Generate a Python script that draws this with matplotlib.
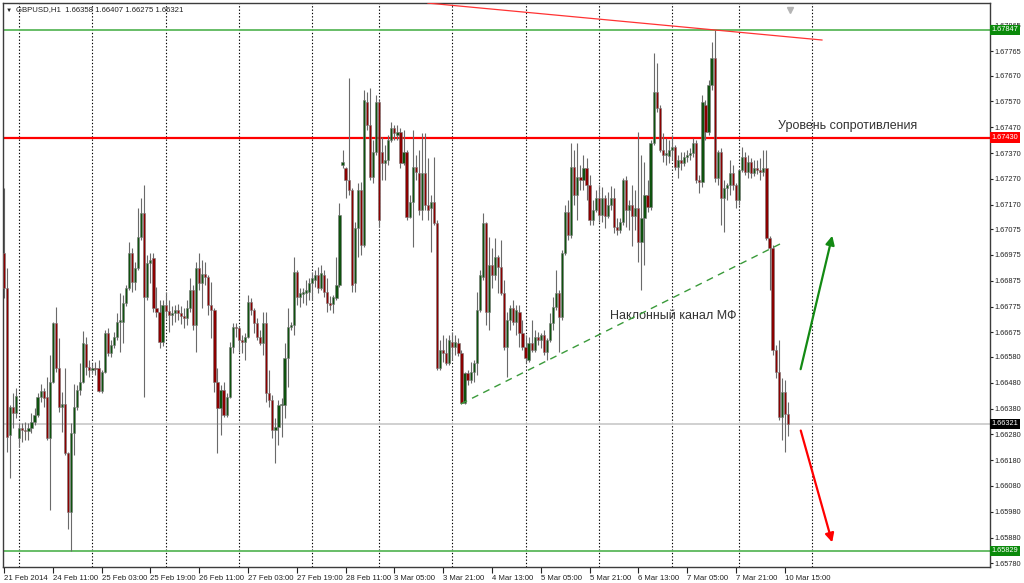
import matplotlib
matplotlib.use("Agg")
import matplotlib.pyplot as plt
import matplotlib.transforms as mtransforms
import numpy as np

plt.rcParams['font.family'] = ['Liberation Sans', 'DejaVu Sans']

# GBPUSD H1 bars (open / high / low / close)
opens = [
    1.66983, 1.66847, 1.66277, 1.66386, 1.66363, 1.66266, 1.66304, 1.66297, 1.66293, 1.66304,
    1.66328, 1.66355, 1.66425, 1.66448, 1.66425, 1.66266, 1.66483, 1.66711, 1.66537, 1.66386,
    1.66398, 1.66208, 1.65979, 1.66285, 1.66386, 1.66452, 1.66483, 1.66630, 1.66541, 1.66529,
    1.66537, 1.66537, 1.66448, 1.66522, 1.66673, 1.66595, 1.66626, 1.66657, 1.66715, 1.66715,
    1.66789, 1.66847, 1.66983, 1.66870, 1.66924, 1.67045, 1.67138, 1.66812, 1.66944, 1.66963,
    1.66770, 1.66754, 1.66638, 1.66781, 1.66758, 1.66742, 1.66750, 1.66762, 1.66750, 1.66739,
    1.66731, 1.66770, 1.66839, 1.66704, 1.66924, 1.66866, 1.66901, 1.66890, 1.66781, 1.66762,
    1.66483, 1.66382, 1.66452, 1.66355, 1.66425, 1.66618, 1.66696, 1.66692, 1.66646, 1.66638,
    1.66657, 1.66793, 1.66762, 1.66711, 1.66657, 1.66634, 1.66711, 1.66440, 1.66413, 1.66297,
    1.66308, 1.66394, 1.66394, 1.66576, 1.66696, 1.66704, 1.66909, 1.66812, 1.66824, 1.66828,
    1.66832, 1.66866, 1.66878, 1.66897, 1.66847, 1.66897, 1.66832, 1.66789, 1.66785, 1.66808,
    1.66859, 1.67324, 1.67312, 1.67266, 1.67227, 1.66866, 1.67080, 1.67227, 1.67014, 1.67568,
    1.67479, 1.67277, 1.67374, 1.67568, 1.67374, 1.67331, 1.67343, 1.67421, 1.67467, 1.67440,
    1.67452, 1.67331, 1.67374, 1.67122, 1.67180, 1.67316, 1.67293, 1.67149, 1.67293, 1.67169,
    1.67157, 1.67180, 1.67099, 1.66537, 1.66607, 1.66595, 1.66556, 1.66638, 1.66618, 1.66634,
    1.66595, 1.66401, 1.66518, 1.66491, 1.66522, 1.66556, 1.66762, 1.66890, 1.67099, 1.66754,
    1.66936, 1.66897, 1.66967, 1.66928, 1.66828, 1.66618, 1.66723, 1.66770, 1.66715, 1.66754,
    1.66673, 1.66618, 1.66568, 1.66634, 1.66607, 1.66657, 1.66646, 1.66665, 1.66599, 1.66646,
    1.66711, 1.66773, 1.66828, 1.66735, 1.66983, 1.67142, 1.67052, 1.67316, 1.67207, 1.67277,
    1.67266, 1.67312, 1.67246, 1.67111, 1.67149, 1.67196, 1.67130, 1.67196, 1.67126, 1.67169,
    1.67196, 1.67083, 1.67072, 1.67103, 1.67266, 1.67149, 1.67169, 1.67126, 1.67157, 1.67025,
    1.67118, 1.67207, 1.67161, 1.67409, 1.67607, 1.67545, 1.67382, 1.67362, 1.67359, 1.67382,
    1.67393, 1.67316, 1.67343, 1.67331, 1.67355, 1.67362, 1.67370, 1.67409, 1.67266, 1.67258,
    1.67556, 1.67452, 1.67634, 1.67738, 1.67273, 1.67374, 1.67196, 1.67235, 1.67246, 1.67293,
    1.67246, 1.67188, 1.67304, 1.67355, 1.67297, 1.67335, 1.67293, 1.67312, 1.67304, 1.67297,
    1.67312, 1.67041, 1.67002, 1.66607, 1.66522, 1.66347, 1.66444, 1.66358,
]
highs = [
    1.67235, 1.66924, 1.66394, 1.66440, 1.66460, 1.66324, 1.66324, 1.66328, 1.66324, 1.66363,
    1.66382, 1.66440, 1.66475, 1.66460, 1.66502, 1.66587, 1.66715, 1.66773, 1.66653, 1.66444,
    1.66537, 1.66211, 1.66324, 1.66475, 1.66471, 1.66556, 1.66680, 1.66657, 1.66568, 1.66556,
    1.66560, 1.66568, 1.66529, 1.66684, 1.66692, 1.66646, 1.66677, 1.66750, 1.66828, 1.66820,
    1.66859, 1.67025, 1.67002, 1.66948, 1.67157, 1.67196, 1.67246, 1.66975, 1.66983, 1.66983,
    1.66851, 1.66801, 1.66801, 1.66832, 1.66801, 1.66777, 1.66781, 1.66785, 1.66777, 1.66770,
    1.66801, 1.66886, 1.66859, 1.66948, 1.66983, 1.66956, 1.66948, 1.66897, 1.66870, 1.66770,
    1.66537, 1.66471, 1.66483, 1.66440, 1.66638, 1.66711, 1.66711, 1.66700, 1.66665, 1.66673,
    1.66820, 1.66808, 1.66770, 1.66731, 1.66684, 1.66754, 1.66754, 1.66529, 1.66432, 1.66343,
    1.66413, 1.66421, 1.66634, 1.66770, 1.66715, 1.66967, 1.66917, 1.66847, 1.66847, 1.66878,
    1.66886, 1.66909, 1.66917, 1.66928, 1.66936, 1.66917, 1.66886, 1.66816, 1.66820, 1.66967,
    1.67176, 1.67382, 1.67316, 1.67661, 1.67235, 1.67103, 1.67254, 1.67258, 1.67614, 1.67607,
    1.67622, 1.67421, 1.67595, 1.67576, 1.67432, 1.67401, 1.67440, 1.67490, 1.67479, 1.67479,
    1.67467, 1.67459, 1.67382, 1.67207, 1.67459, 1.67362, 1.67382, 1.67448, 1.67448, 1.67351,
    1.67207, 1.67355, 1.67111, 1.66646, 1.66665, 1.66653, 1.66665, 1.66677, 1.66665, 1.66653,
    1.66607, 1.66522, 1.66529, 1.66560, 1.66568, 1.66832, 1.66917, 1.67138, 1.67103, 1.67045,
    1.67002, 1.67041, 1.66975, 1.67033, 1.66878, 1.66754, 1.66781, 1.66801, 1.66781, 1.66781,
    1.66723, 1.66665, 1.66657, 1.66723, 1.66684, 1.66677, 1.66673, 1.66684, 1.66653, 1.66750,
    1.66812, 1.66917, 1.66839, 1.66994, 1.67169, 1.67188, 1.67409, 1.67382, 1.67409, 1.67324,
    1.67362, 1.67351, 1.67285, 1.67188, 1.67227, 1.67246, 1.67238, 1.67207, 1.67219, 1.67242,
    1.67235, 1.67118, 1.67118, 1.67273, 1.67281, 1.67188, 1.67246, 1.67227, 1.67452, 1.67362,
    1.67335, 1.67266, 1.67421, 1.67758, 1.67719, 1.67556, 1.67448, 1.67428, 1.67421, 1.67440,
    1.67401, 1.67362, 1.67374, 1.67374, 1.67382, 1.67390, 1.67428, 1.67421, 1.67285, 1.67595,
    1.67576, 1.67653, 1.67800, 1.67847, 1.67382, 1.67390, 1.67266, 1.67254, 1.67343, 1.67324,
    1.67254, 1.67304, 1.67393, 1.67374, 1.67362, 1.67351, 1.67343, 1.67343, 1.67351, 1.67382,
    1.67382, 1.67049, 1.67014, 1.66626, 1.66646, 1.66498, 1.66491, 1.66407,
]
lows = [
    1.66808, 1.66211, 1.66111, 1.66304, 1.66343, 1.66231, 1.66250, 1.66258, 1.66258, 1.66285,
    1.66316, 1.66347, 1.66405, 1.66386, 1.66258, 1.65987, 1.66479, 1.66522, 1.66367, 1.66289,
    1.66200, 1.65913, 1.65829, 1.66200, 1.66374, 1.66432, 1.66479, 1.66510, 1.66502, 1.66514,
    1.66510, 1.66444, 1.66440, 1.66518, 1.66584, 1.66580, 1.66615, 1.66646, 1.66599, 1.66634,
    1.66777, 1.66839, 1.66832, 1.66839, 1.66917, 1.67033, 1.66425, 1.66801, 1.66866, 1.66754,
    1.66735, 1.66615, 1.66622, 1.66731, 1.66677, 1.66704, 1.66715, 1.66723, 1.66708, 1.66692,
    1.66704, 1.66754, 1.66684, 1.66599, 1.66839, 1.66770, 1.66859, 1.66742, 1.66653, 1.66444,
    1.66208, 1.66277, 1.66347, 1.66347, 1.66421, 1.66595, 1.66657, 1.66599, 1.66595, 1.66568,
    1.66653, 1.66742, 1.66673, 1.66646, 1.66626, 1.66587, 1.66405, 1.66386, 1.66266, 1.66169,
    1.66239, 1.66270, 1.66343, 1.66463, 1.66684, 1.66665, 1.66781, 1.66773, 1.66789, 1.66781,
    1.66801, 1.66801, 1.66851, 1.66828, 1.66839, 1.66812, 1.66754, 1.66762, 1.66750, 1.66801,
    1.66851, 1.67312, 1.67196, 1.67207, 1.66832, 1.66832, 1.66967, 1.66975, 1.67006, 1.67459,
    1.67266, 1.67254, 1.67362, 1.67083, 1.67266, 1.67266, 1.67324, 1.67413, 1.67421, 1.67421,
    1.67312, 1.67324, 1.67111, 1.67118, 1.67006, 1.67266, 1.67130, 1.67111, 1.67149, 1.67111,
    1.66987, 1.67091, 1.66529, 1.66529, 1.66560, 1.66549, 1.66549, 1.66568, 1.66587, 1.66584,
    1.66398, 1.66398, 1.66471, 1.66479, 1.66483, 1.66510, 1.66754, 1.66878, 1.66704, 1.66684,
    1.66847, 1.66878, 1.66828, 1.66820, 1.66607, 1.66502, 1.66684, 1.66704, 1.66665, 1.66618,
    1.66607, 1.66556, 1.66560, 1.66599, 1.66599, 1.66626, 1.66615, 1.66587, 1.66568, 1.66638,
    1.66684, 1.66762, 1.66599, 1.66723, 1.66975, 1.67033, 1.67041, 1.67169, 1.67111, 1.67227,
    1.67227, 1.67188, 1.67091, 1.67091, 1.67142, 1.67103, 1.67103, 1.67080, 1.67118, 1.67149,
    1.67060, 1.67052, 1.67060, 1.67091, 1.67083, 1.67072, 1.67010, 1.67072, 1.66948, 1.66839,
    1.66936, 1.67142, 1.67149, 1.67401, 1.67529, 1.67374, 1.67335, 1.67324, 1.67331, 1.67343,
    1.67304, 1.67273, 1.67304, 1.67320, 1.67335, 1.67343, 1.67355, 1.67254, 1.67215, 1.67238,
    1.67421, 1.67440, 1.67614, 1.67258, 1.67246, 1.67091, 1.67064, 1.67188, 1.67207, 1.67227,
    1.67157, 1.67169, 1.67297, 1.67285, 1.67273, 1.67273, 1.67281, 1.67289, 1.67266, 1.67281,
    1.67033, 1.66839, 1.66587, 1.66498, 1.66336, 1.66258, 1.66211, 1.66275,
]
closes = [
    1.66847, 1.66270, 1.66386, 1.66363, 1.66428, 1.66304, 1.66297, 1.66293, 1.66304, 1.66328,
    1.66355, 1.66425, 1.66448, 1.66421, 1.66266, 1.66483, 1.66711, 1.66537, 1.66386, 1.66398,
    1.66208, 1.65979, 1.66285, 1.66386, 1.66452, 1.66483, 1.66634, 1.66541, 1.66529, 1.66537,
    1.66533, 1.66448, 1.66522, 1.66673, 1.66595, 1.66626, 1.66657, 1.66715, 1.66723, 1.66789,
    1.66847, 1.66983, 1.66870, 1.66924, 1.67045, 1.67138, 1.66812, 1.66944, 1.66956, 1.66770,
    1.66754, 1.66638, 1.66781, 1.66758, 1.66742, 1.66750, 1.66762, 1.66750, 1.66739, 1.66731,
    1.66770, 1.66839, 1.66704, 1.66924, 1.66866, 1.66901, 1.66890, 1.66781, 1.66762, 1.66483,
    1.66382, 1.66452, 1.66355, 1.66425, 1.66618, 1.66696, 1.66692, 1.66646, 1.66638, 1.66657,
    1.66793, 1.66762, 1.66711, 1.66657, 1.66634, 1.66711, 1.66440, 1.66413, 1.66297, 1.66308,
    1.66394, 1.66398, 1.66576, 1.66696, 1.66704, 1.66909, 1.66812, 1.66828, 1.66832, 1.66839,
    1.66866, 1.66886, 1.66897, 1.66847, 1.66905, 1.66832, 1.66789, 1.66781, 1.66812, 1.66859,
    1.67130, 1.67335, 1.67266, 1.67227, 1.66859, 1.67080, 1.67227, 1.67014, 1.67576, 1.67479,
    1.67277, 1.67374, 1.67568, 1.67111, 1.67331, 1.67343, 1.67421, 1.67467, 1.67448, 1.67452,
    1.67331, 1.67374, 1.67122, 1.67180, 1.67316, 1.67297, 1.67149, 1.67293, 1.67169, 1.67149,
    1.67180, 1.67099, 1.66537, 1.66607, 1.66595, 1.66556, 1.66646, 1.66618, 1.66638, 1.66595,
    1.66401, 1.66518, 1.66491, 1.66522, 1.66556, 1.66762, 1.66897, 1.67099, 1.66754, 1.66936,
    1.66897, 1.66967, 1.66928, 1.66828, 1.66618, 1.66723, 1.66770, 1.66715, 1.66762, 1.66673,
    1.66618, 1.66576, 1.66634, 1.66607, 1.66657, 1.66646, 1.66665, 1.66599, 1.66646, 1.66711,
    1.66773, 1.66828, 1.66735, 1.66983, 1.67142, 1.67052, 1.67316, 1.67207, 1.67277, 1.67266,
    1.67312, 1.67246, 1.67111, 1.67149, 1.67196, 1.67130, 1.67196, 1.67126, 1.67169, 1.67196,
    1.67083, 1.67072, 1.67103, 1.67266, 1.67149, 1.67169, 1.67126, 1.67157, 1.67025, 1.67118,
    1.67207, 1.67161, 1.67409, 1.67607, 1.67545, 1.67382, 1.67362, 1.67370, 1.67382, 1.67393,
    1.67316, 1.67343, 1.67331, 1.67355, 1.67362, 1.67370, 1.67409, 1.67266, 1.67258, 1.67568,
    1.67452, 1.67634, 1.67738, 1.67273, 1.67374, 1.67196, 1.67235, 1.67246, 1.67293, 1.67246,
    1.67188, 1.67304, 1.67355, 1.67297, 1.67335, 1.67293, 1.67312, 1.67304, 1.67297, 1.67312,
    1.67041, 1.67002, 1.66607, 1.66522, 1.66347, 1.66444, 1.66359, 1.66321,
]

# time axis labels every 16 bars, day separators
time_labels = ["21 Feb 2014", "24 Feb 11:00", "25 Feb 03:00", "25 Feb 19:00", "26 Feb 11:00",
               "27 Feb 03:00", "27 Feb 19:00", "28 Feb 11:00", "3 Mar 05:00", "3 Mar 21:00",
               "4 Mar 13:00", "5 Mar 05:00", "5 Mar 21:00", "6 Mar 13:00", "7 Mar 05:00",
               "7 Mar 21:00", "10 Mar 15:00"]
day_sep_bars = [5, 29, 53, 77, 101, 123, 147, 171, 195, 219, 241, 265]
price_ticks = [1.67865, 1.67765, 1.67670, 1.67570, 1.67470, 1.67370, 1.67270, 1.67170,
               1.67075, 1.66975, 1.66875, 1.66775, 1.66675, 1.66580, 1.66480, 1.66380,
               1.66280, 1.66180, 1.66080, 1.65980, 1.65880, 1.65780]

high_level = 1.67847
low_level = 1.65829
resistance = 1.67430
bid = 1.66321
# drawn objects: (bar, price) pairs
top_trend = [(139.0, 1.67951), (268.2, 1.67808)]
channel = [(149.8, 1.66398), (255.7, 1.67025)]
up_arrow = [(261.0, 1.66522), (271.8, 1.67060)]
down_arrow = [(261.0, 1.66305), (271.8, 1.65851)]

o = np.array(opens); h = np.array(highs); l = np.array(lows); c = np.array(closes)
x = np.arange(len(c))

fig = plt.figure(figsize=(10.24, 5.83), dpi=100)
W, H = 1024, 583
ax = fig.add_axes([3 / W, 1 - 567 / H, 987 / W, 564 / H])
ax.set_xlim(-0.33, 323.3)
ax.set_ylim(1.657659, 1.679514)

# grid / levels
for b in day_sep_bars:
    ax.axvline(b, color='black', lw=0.8, ls=(0, (1.2, 1.8)), zorder=1)
ax.axhline(high_level, color='#5cb85c', lw=1.3, zorder=1)
ax.axhline(low_level, color='#5cb85c', lw=1.3, zorder=1)
ax.axhline(resistance, color='#ff0000', lw=1.6, zorder=1)
ax.axhline(bid, color='#c8c8c8', lw=1.2, zorder=1)

# candles
ax.vlines(x, l, h, color='#6a6a6a', lw=0.8, zorder=2)
up = c >= o
body = np.maximum(np.abs(c - o), 0.00003)
bottom = np.minimum(o, c)
ax.bar(x[up], body[up], bottom=bottom[up], width=0.72, color='#0e520e',
       edgecolor='#7a7a7a', linewidth=0.4, zorder=3)
ax.bar(x[~up], body[~up], bottom=bottom[~up], width=0.72, color='#8b0000',
       edgecolor='#7a7a7a', linewidth=0.4, zorder=3)

# analysis objects
ax.plot(*zip(*top_trend), color='#ff3333', lw=0.9, zorder=4)
ax.plot(*zip(*channel), color='#3a9a3a', lw=1.0, ls=(0, (5, 4)), zorder=4)
ax.annotate('', xy=up_arrow[1], xytext=up_arrow[0],
            arrowprops=dict(arrowstyle='-|>', color='#138a13', lw=1.6, mutation_scale=13))
ax.annotate('', xy=down_arrow[1], xytext=down_arrow[0],
            arrowprops=dict(arrowstyle='-|>', color='#ff0000', lw=1.6, mutation_scale=13))
ax.text(253.8, 1.67475, 'Уровень сопротивления', fontsize=9, color='#333333', va='center')
ax.text(198.7, 1.66739, 'Наклонный канал МФ', fontsize=9, color='#333333', va='center')

# axes styling
for s in ax.spines.values():
    s.set_color('#3c3c3c')
    s.set_linewidth(1.0)
ax.yaxis.tick_right()
ax.set_yticks(price_ticks)
ax.set_yticklabels([f"{p:.5f}" for p in price_ticks])
ax.tick_params(axis='y', length=2.5, width=0.8, pad=1, labelsize=5.3, colors='#222222')
ax.set_xticks(np.arange(len(time_labels)) * 16)
ax.set_xticklabels(time_labels, ha='left')
ax.tick_params(axis='x', length=4, width=0.8, pad=2, labelsize=5.6, colors='#222222')

# price badges on the right scale (the high badge covers the top scale label, as in the terminal)
tr = mtransforms.blended_transform_factory(ax.transAxes, ax.transData)
for val, bg in [(high_level, '#0a8a0a'), (resistance, '#ff0000'), (bid, '#000000'), (low_level, '#0a8a0a')]:
    ax.text(1.0015, val, f"{val:.5f}", transform=tr, fontsize=5.3, color='white', va='center',
            ha='left', bbox=dict(boxstyle='square,pad=0.22', fc=bg, ec='none'), zorder=10, clip_on=False)

# chart header
fig.text(6 / W, 1 - 10 / H, '▼', fontsize=4.5, va='center', color='#222222')
fig.text(16 / W, 1 - 10 / H, 'GBPUSD,H1  1.66358 1.66407 1.66275 1.66321',
         fontsize=5.6, va='center', color='#222222')
ax.plot([257.7], [1.67925], marker='v', ms=4, color='#b4b4b4', zorder=5, clip_on=False)

fig.savefig('out.png', dpi=100, facecolor='white')
